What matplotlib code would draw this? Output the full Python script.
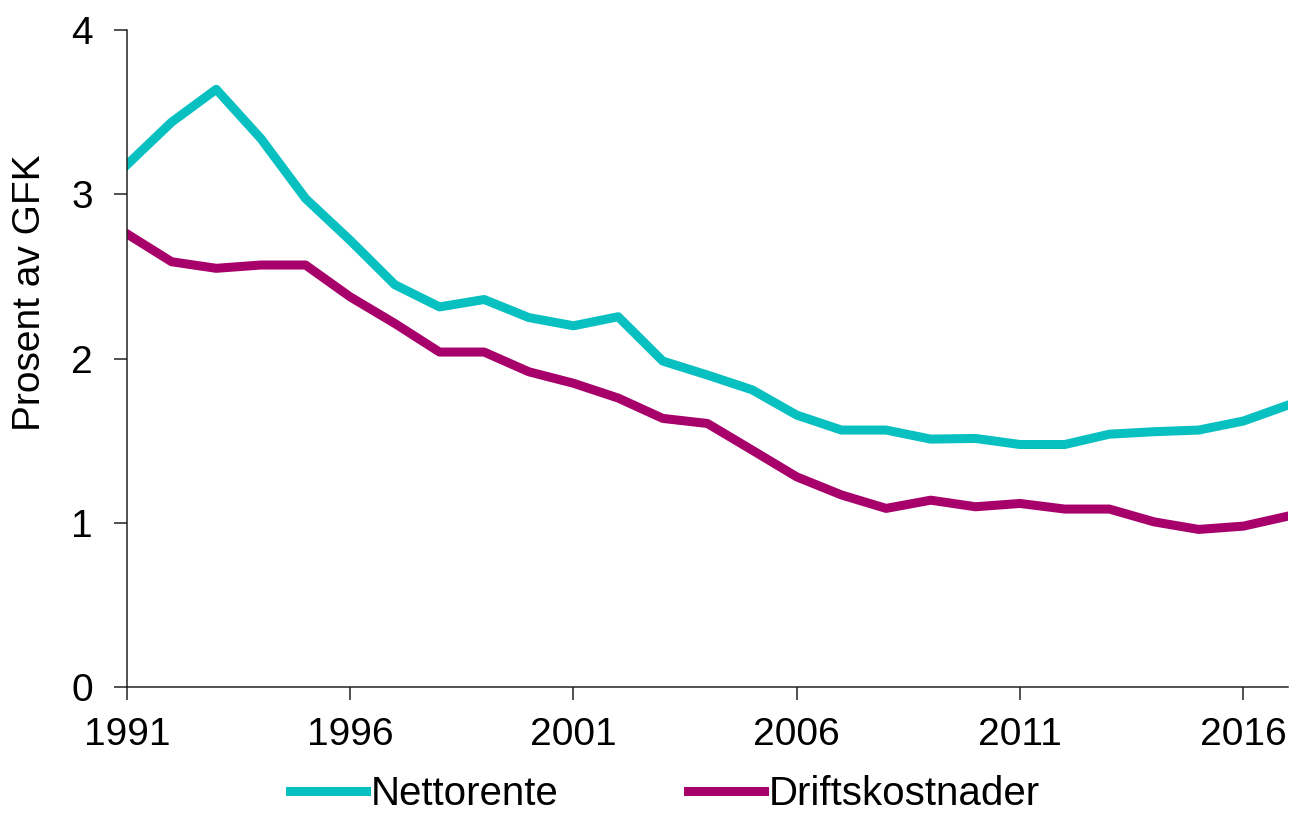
import matplotlib
matplotlib.use('Agg')
import matplotlib.pyplot as plt

years = list(range(1991, 2018))
nettorente = [3.18, 3.44, 3.64, 3.34, 2.975, 2.72, 2.45, 2.315, 2.36, 2.25,
              2.20, 2.255, 1.985, 1.90, 1.81, 1.656, 1.565, 1.565, 1.51, 1.514,
              1.477, 1.477, 1.54, 1.555, 1.565, 1.62, 1.717]
driftskostnader = [2.76, 2.59, 2.55, 2.57, 2.57, 2.376, 2.214, 2.04, 2.04, 1.92,
                   1.85, 1.76, 1.636, 1.605, 1.443, 1.28, 1.17, 1.088, 1.138, 1.098,
                   1.118, 1.084, 1.084, 1.006, 0.96, 0.98, 1.041]
xticks = [1991, 1996, 2001, 2006, 2011, 2016]
yticks = [0, 1, 2, 3, 4]

plt.rcParams['font.family'] = ['Liberation Sans', 'DejaVu Sans']

fig = plt.figure(figsize=(12.95, 8.16), dpi=100)
ax = fig.add_axes([0.098, 0.158, 0.8966, 0.805])

ax.plot(years, nettorente, color='#08C0C0', linewidth=6.5,
        solid_joinstyle='round', label='Nettorente')
ax.plot(years, driftskostnader, color='#A8006B', linewidth=6.5,
        solid_joinstyle='round', label='Driftskostnader')

ax.set_xlim(1991, 2017)
ax.set_ylim(0, 4)
ax.set_xticks(xticks)
ax.set_yticks(yticks)
ax.spines['top'].set_visible(False)
ax.spines['right'].set_visible(False)
for s in ['left', 'bottom']:
    ax.spines[s].set_linewidth(1.1)
    ax.spines[s].set_color('#222222')
ax.tick_params(axis='both', direction='out', length=9.5, width=1.1,
               color='#222222', labelsize=28)
ax.tick_params(axis='y', pad=15)
ax.tick_params(axis='x', pad=12)

ax.set_ylabel('Prosent av GFK', fontsize=28)
ax.yaxis.set_label_coords(-0.068, 0.6)

fig.legend(loc='center', bbox_to_anchor=(0.5135, 0.027), ncol=2,
           frameon=False, fontsize=29, handlelength=1.9, handletextpad=0.12,
           columnspacing=3.2, borderaxespad=0, borderpad=0)

fig.savefig('out.png', dpi=100)
